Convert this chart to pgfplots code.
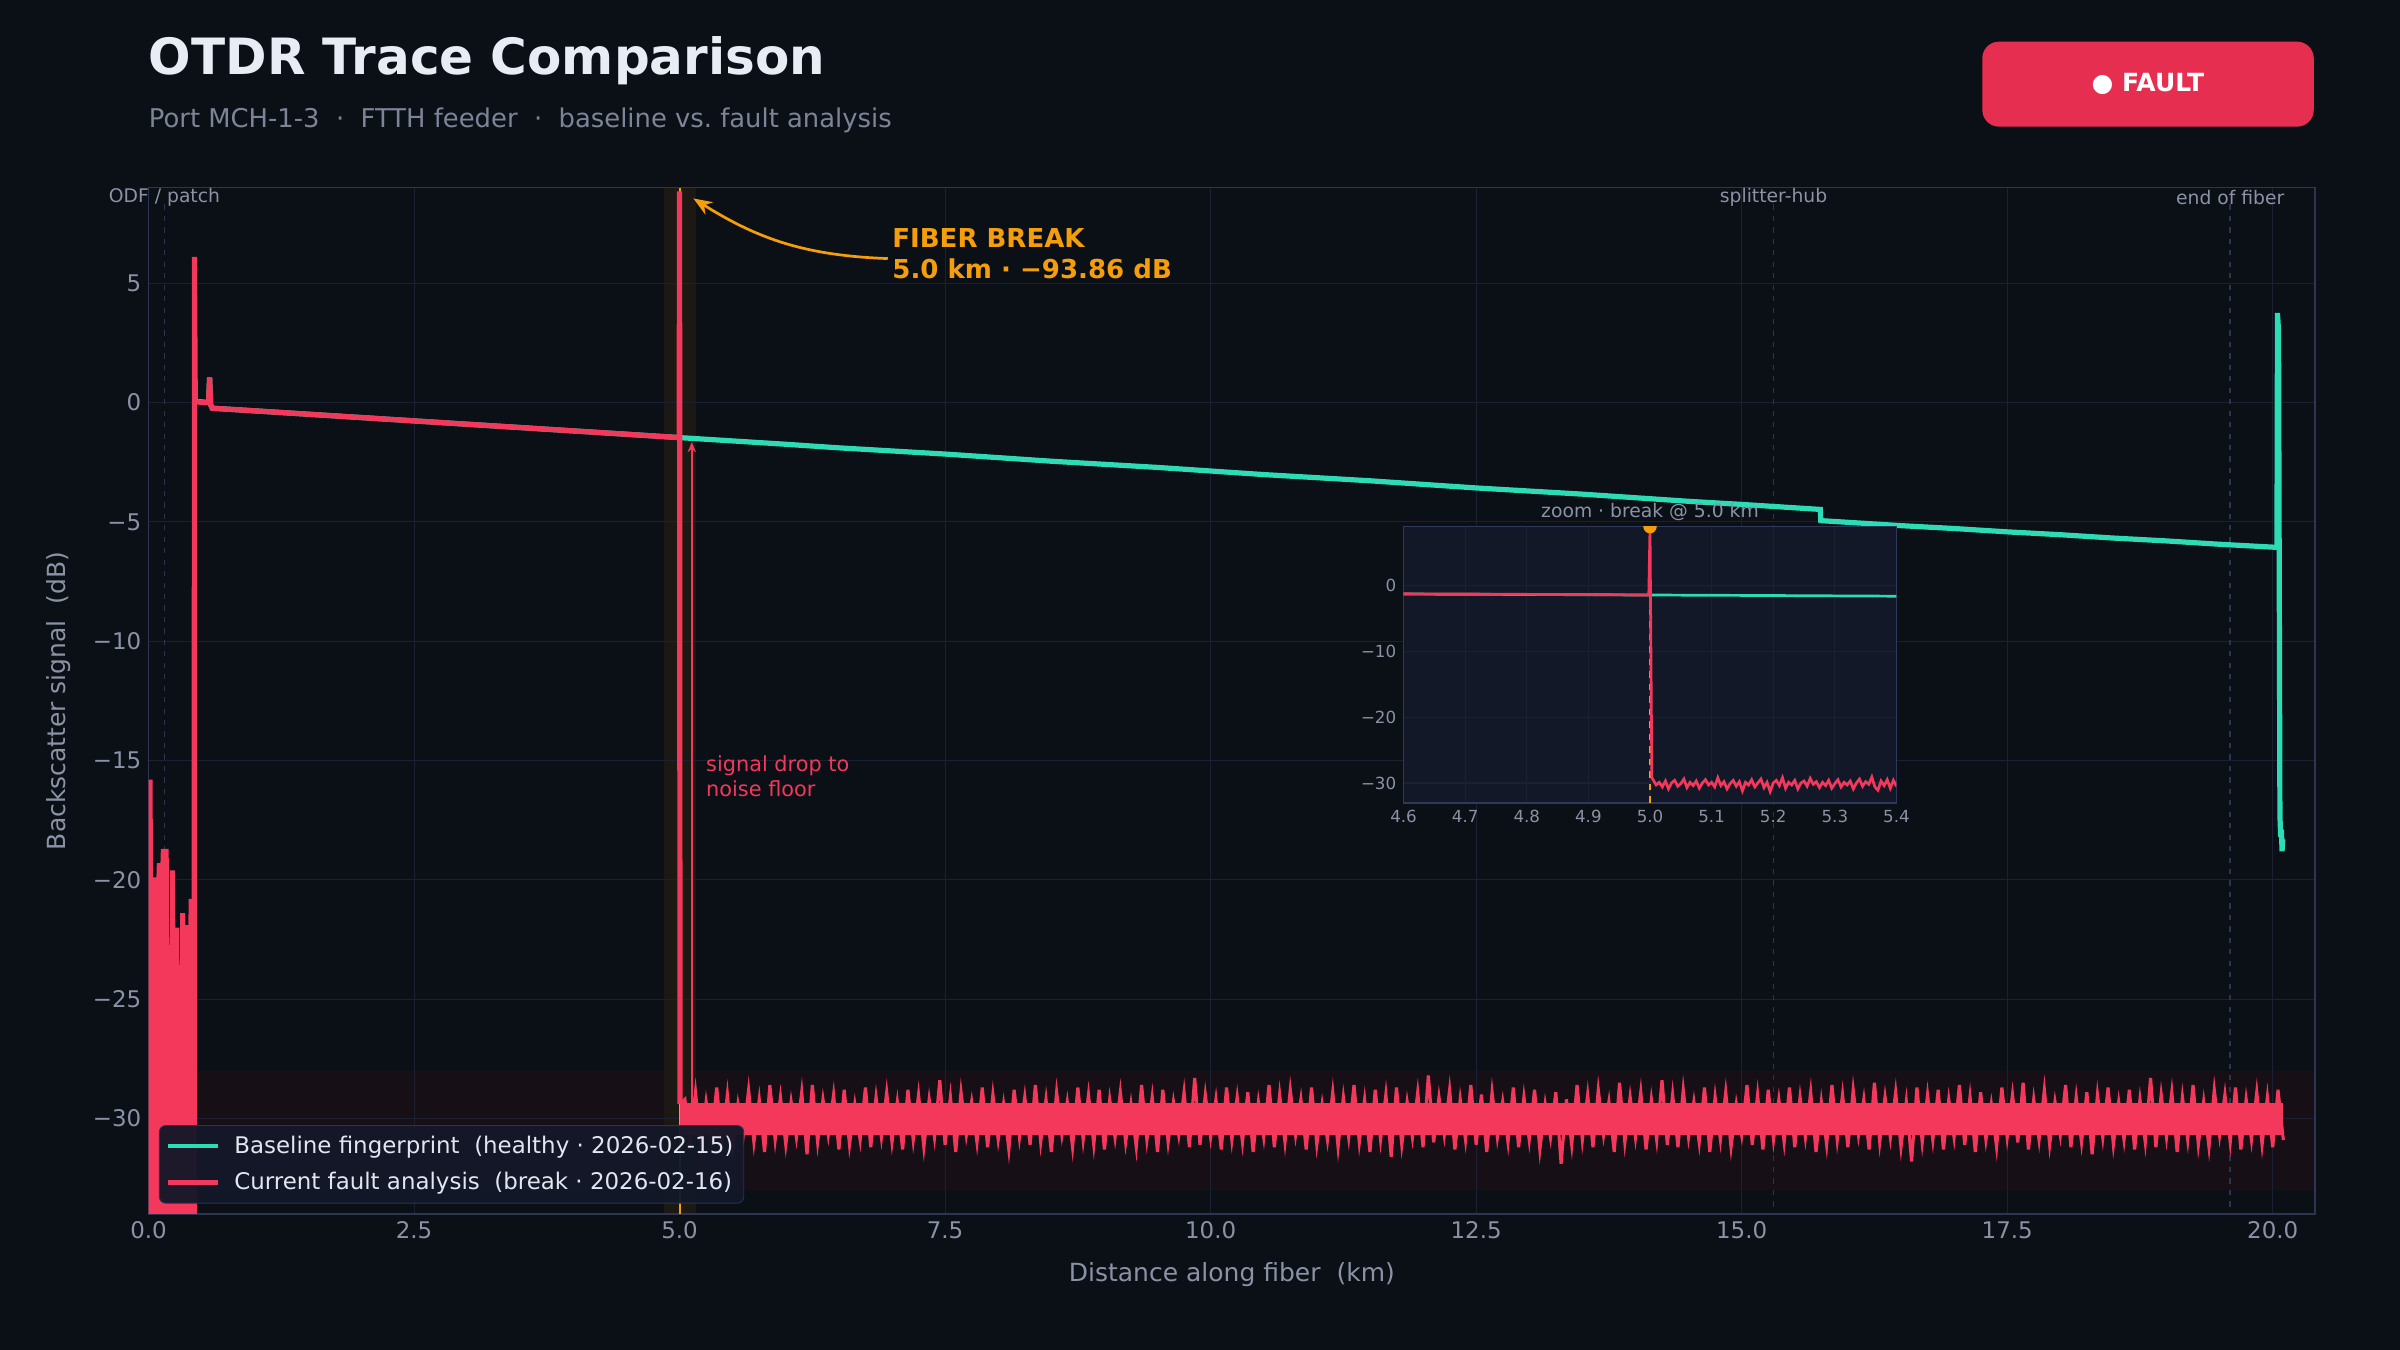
\documentclass[border=0pt]{standalone}
\usepackage{fontspec}
\setmainfont{DejaVu Sans}
\setsansfont{DejaVu Sans}
\usepackage{pgfplots}
\pgfplotsset{compat=1.18}
\usetikzlibrary{arrows.meta}

\definecolor{bg}{RGB}{11,15,22}
\definecolor{gridc}{RGB}{27,32,50}
\definecolor{spine}{RGB}{46,53,82}
\definecolor{tickc}{RGB}{139,146,166}
\definecolor{titlec}{RGB}{232,236,245}
\definecolor{subc}{RGB}{125,132,152}
\definecolor{tealc}{RGB}{45,220,180}
\definecolor{redc}{RGB}{244,56,92}
\definecolor{badgec}{RGB}{230,46,80}
\definecolor{orangec}{RGB}{245,158,11}
\definecolor{insetbg}{RGB}{18,24,40}
\definecolor{insetbd}{RGB}{46,56,90}
\definecolor{legbg}{RGB}{19,24,40}
\definecolor{legbd}{RGB}{42,50,80}
\definecolor{legtext}{RGB}{226,230,240}
\definecolor{bandc}{RGB}{22,15,22}
\definecolor{brkc}{RGB}{28,25,20}
\definecolor{evc}{RGB}{44,52,80}

\begin{document}
\begin{tikzpicture}
\fill[bg] (0pt,0pt) rectangle (1152pt,648pt);
\useasboundingbox (0pt,0pt) rectangle (1152pt,648pt);

% title block
\node[anchor=base west, inner sep=0, text=titlec, font=\fontsize{24}{28}\selectfont\bfseries] at (71.3pt,612pt) {OTDR Trace Comparison};
\node[anchor=base west, inner sep=0, text=subc, font=\fontsize{12.4}{14}\selectfont] at (71.3pt,586.7pt) {Port MCH-1-3\ \ ·\ \ FTTH feeder\ \ ·\ \ baseline vs.\ fault analysis};
\fill[badgec, rounded corners=8pt] (951.5pt,587.2pt) rectangle (1110.6pt,628pt);
\node[text=white, font=\fontsize{12}{14}\selectfont\bfseries] at (1031pt,607.6pt) {● FAULT};

% background bands
\begin{axis}[
  at={(71.3pt,65.3pt)}, anchor=south west,
  scale only axis, width=1040pt, height=492.6pt,
  xmin=0, xmax=20.4, ymin=-34, ymax=9,
  hide axis,
]
\addplot[draw=none, fill=bandc] coordinates {(0,-28) (20.4,-28) (20.4,-33) (0,-33)};
\addplot[draw=none, fill=brkc] coordinates {(4.85,-34) (5.15,-34) (5.15,9) (4.85,9)};
\end{axis}

% main axis
\begin{axis}[
  at={(71.3pt,65.3pt)}, anchor=south west,
  scale only axis, width=1040pt, height=492.6pt,
  xmin=0, xmax=20.4, ymin=-34, ymax=9,
  axis line style={spine, line width=0.7pt},
  xtick={0,2.5,5,7.5,10,12.5,15,17.5,20},
  xticklabels={0.0,2.5,5.0,7.5,10.0,12.5,15.0,17.5,20.0},
  ytick={-30,-25,-20,-15,-10,-5,0,5},
  yticklabels={−30,−25,−20,−15,−10,−5,0,5},
  major tick length=0pt,
  tick label style={text=tickc, font=\fontsize{11}{13}\selectfont},
  grid=major, major grid style={gridc, line width=0.5pt},
  xlabel={Distance along fiber\ \ (km)},
  ylabel={Backscatter signal\ \ (dB)},
  label style={text=tickc, font=\fontsize{12}{14}\selectfont},
  xlabel style={at={(axis description cs:0.5,-0.0595)}, anchor=center},
  ylabel style={at={(axis description cs:-0.0417,0.5)}, anchor=center},
  clip mode=individual,
  legend style={at={(axis description cs:0,0)}, anchor=south west, xshift=5pt, yshift=5pt,
    fill=legbg, fill opacity=0.95, text opacity=1, draw=legbd, rounded corners=3pt,
    text=legtext, font=\fontsize{11}{13}\selectfont, row sep=3.5pt, inner xsep=3pt, inner ysep=3pt,
    /tikz/every odd column/.append style={column sep=5pt}},
  legend cell align=left,
  legend image code/.code={\draw[#1] (0pt,0pt) -- (24pt,0pt);},
]
\addlegendimage{tealc, line width=2pt}
\addlegendentry{Baseline fingerprint\ \ (healthy · 2026-02-15)}
\addlegendimage{redc, line width=2pt}
\addlegendentry{Current fault analysis\ \ (break · 2026-02-16)}

% event markers
\addplot[evc, dash pattern=on 2.5pt off 3pt, line width=0.8pt, forget plot] coordinates {(0.15,8.3) (0.15,-34)};
\addplot[evc, dash pattern=on 2.5pt off 3pt, line width=0.8pt, forget plot] coordinates {(15.3,8.3) (15.3,-34)};
\addplot[evc, dash pattern=on 2.5pt off 3pt, line width=0.8pt, forget plot] coordinates {(19.6,8.3) (19.6,-34)};
\node[text=tickc, font=\fontsize{9}{11}\selectfont, inner sep=0] at (axis cs:0.15,9) [yshift=-4.5pt] {ODF / patch};
\node[text=tickc, font=\fontsize{9}{11}\selectfont, inner sep=0] at (axis cs:15.3,9) [yshift=-4.5pt] {splitter-hub};
\node[text=tickc, font=\fontsize{9}{11}\selectfont, inner sep=0] at (axis cs:19.6,9) [yshift=-4.5pt] {end of fiber};

% orange break line
\addplot[orangec, line width=0.9pt, forget plot] coordinates {(5.0,-34) (5.0,9)};

% baseline trace
\addplot[tealc, line width=2.5pt, forget plot] coordinates {
(0.44,0.05) (0.565,0.0) (0.575,1.05) (0.585,-0.1) (0.6,-0.24)
(1.0,-0.35) (1.5,-0.49) (2.0,-0.63) (2.5,-0.77) (3.0,-0.91) (3.5,-1.05) (4.0,-1.19) (4.5,-1.33) (4.996,-1.47)
(5.5,-1.61) (6,-1.75) (6.5,-1.90) (7,-2.03) (7.5,-2.16) (8,-2.31) (8.5,-2.46) (9,-2.59) (9.5,-2.72) (10,-2.87)
(10.5,-3.02) (11,-3.15) (11.5,-3.28) (12,-3.43) (12.5,-3.58) (13,-3.71) (13.5,-3.84) (14,-3.99) (14.5,-4.14) (15,-4.27)
(15.74,-4.48) (15.745,-4.95) (16,-5.02) (16.5,-5.16) (17,-5.28) (17.5,-5.42) (18,-5.54) (18.5,-5.68) (19,-5.80) (19.5,-5.94) (20,-6.06) (20.04,-6.07)
(20.045,3.75) (20.055,3.0) (20.068,-17.3) (20.075,-18.2) (20.082,-17.9) (20.088,-18.8) (20.095,-18.3)};

% fault trace: dead-zone noise
\addplot[draw=none, fill=redc, forget plot] coordinates {
(0,-40) (0,-15.8) (0.038,-15.8) (0.042,-19.9) (0.074,-19.9) (0.078,-19.3) (0.112,-19.3) (0.116,-18.7)
(0.19,-18.7) (0.192,-21.6) (0.196,-21.6) (0.198,-22.8) (0.202,-22.8) (0.204,-19.6) (0.248,-19.6)
(0.252,-22.0) (0.29,-22.0) (0.292,-23.8) (0.296,-23.8) (0.298,-21.4) (0.345,-21.4) (0.348,-21.9)
(0.375,-21.9) (0.378,-20.8) (0.414,-20.8) (0.418,-20.9) (0.455,-20.9) (0.455,-40)};

% noise floor core
\addplot[draw=none, fill=redc, forget plot] coordinates {(5.0,-29.35) (20.1,-29.35) (20.1,-30.7) (5.0,-30.7)};

% fault trace
\addplot[redc, line width=2.5pt, forget plot] coordinates {
(0.43,-36) (0.432,6.1) (0.44,0.05) (0.5,0.0) (0.565,0.0) (0.575,1.05) (0.585,-0.1) (0.6,-0.24)
(1.0,-0.35) (1.5,-0.49) (2.0,-0.63) (2.5,-0.77) (3.0,-0.91) (3.5,-1.05) (4.0,-1.19) (4.5,-1.33) (4.996,-1.47)
(5.0,8.85) (5.004,-29.4)};
\addplot[redc, line width=1.5pt, forget plot] coordinates {
(5.004,-29.4)
(5.05,-29.2) (5.10,-30.9) (5.15,-28.9) (5.20,-31.2) (5.25,-29.3) (5.30,-30.8) (5.35,-28.7) (5.40,-31.1) (5.45,-29.0) (5.50,-31.3)
(5.55,-29.4) (5.60,-30.7) (5.65,-28.8) (5.70,-31.0) (5.75,-29.2) (5.80,-31.4) (5.85,-28.6) (5.90,-30.9) (5.95,-29.1) (6.00,-31.1)
(6.05,-29.3) (6.10,-30.8) (6.15,-28.9) (6.20,-31.5) (6.25,-28.6) (6.30,-31.0) (6.35,-29.2) (6.40,-30.7) (6.45,-29.0) (6.50,-31.3)
(6.55,-28.8) (6.60,-31.1) (6.65,-29.4) (6.70,-30.9) (6.75,-28.7) (6.80,-31.2) (6.85,-29.1) (6.90,-30.8) (6.95,-28.9) (7.00,-31.0)
(7.05,-29.3) (7.10,-31.3) (7.15,-28.8) (7.20,-30.9) (7.25,-29.0) (7.30,-31.2) (7.35,-29.2) (7.40,-30.8) (7.45,-28.4) (7.50,-31.1)
(7.55,-29.1) (7.60,-31.4) (7.65,-28.9) (7.70,-30.7) (7.75,-29.3) (7.80,-31.0) (7.85,-28.7) (7.90,-31.2) (7.95,-29.0) (8.00,-30.9)
(8.05,-29.4) (8.10,-31.3) (8.15,-28.8) (8.20,-30.8) (8.25,-29.1) (8.30,-31.1) (8.35,-28.6) (8.40,-31.0) (8.45,-29.2) (8.50,-31.4)
(8.55,-28.9) (8.60,-30.7) (8.65,-29.3) (8.70,-31.2) (8.75,-28.7) (8.80,-30.9) (8.85,-29.0) (8.90,-31.1) (8.95,-28.8) (9.00,-31.3)
(9.05,-29.2) (9.10,-30.8) (9.15,-28.9) (9.20,-31.0) (9.25,-29.4) (9.30,-31.2) (9.35,-28.6) (9.40,-30.9) (9.45,-29.1) (9.50,-31.4)
(9.55,-28.8) (9.60,-31.0) (9.65,-29.3) (9.70,-30.7) (9.75,-28.9) (9.80,-31.2) (9.85,-28.3) (9.90,-31.1) (9.95,-29.0) (10.00,-30.8)
(10.05,-29.2) (10.10,-31.3) (10.15,-28.7) (10.20,-30.9) (10.25,-29.1) (10.30,-31.0) (10.35,-28.9) (10.40,-31.4) (10.45,-29.3) (10.50,-30.8)
(10.55,-28.6) (10.60,-31.2) (10.65,-29.0) (10.70,-31.0) (10.75,-28.8) (10.80,-30.7) (10.85,-29.2) (10.90,-31.3) (10.95,-28.7) (11.00,-31.1)
(11.05,-29.4) (11.10,-30.9) (11.15,-28.9) (11.20,-31.2) (11.25,-29.1) (11.30,-30.8) (11.35,-28.6) (11.40,-31.0) (11.45,-29.2) (11.50,-31.4)
(11.55,-28.8) (11.60,-30.9) (11.65,-29.0) (11.70,-31.6) (11.75,-28.7) (11.80,-31.1) (11.85,-29.3) (11.90,-30.8) (11.95,-28.9) (12.00,-31.2)
(12.05,-28.2) (12.10,-31.0) (12.15,-29.1) (12.20,-30.7) (12.25,-28.8) (12.30,-31.3) (12.35,-29.2) (12.40,-30.9) (12.45,-28.6) (12.50,-31.1)
(12.55,-29.0) (12.60,-31.4) (12.65,-28.9) (12.70,-30.8) (12.75,-29.3) (12.80,-31.0) (12.85,-28.7) (12.90,-31.2) (12.95,-29.1) (13.00,-30.9)
(13.05,-28.8) (13.10,-31.3) (13.15,-29.4) (13.20,-30.8) (13.25,-28.9) (13.30,-31.9) (13.35,-29.2) (13.40,-31.1) (13.45,-28.6) (13.50,-30.9)
(13.55,-29.0) (13.60,-31.2) (13.65,-28.8) (13.70,-30.7) (13.75,-29.3) (13.80,-31.4) (13.85,-28.5) (13.90,-31.0) (13.95,-29.1) (14.00,-30.8)
(14.05,-28.9) (14.10,-31.3) (14.15,-29.2) (14.20,-30.9) (14.25,-28.4) (14.30,-31.1) (14.35,-29.0) (14.40,-31.2) (14.45,-28.8) (14.50,-30.8)
(14.55,-29.3) (14.60,-31.0) (14.65,-28.7) (14.70,-31.4) (14.75,-29.1) (14.80,-30.9) (14.85,-28.9) (14.90,-31.2) (14.95,-29.4) (15.00,-30.7)
(15.05,-28.6) (15.10,-31.1) (15.15,-29.0) (15.20,-31.3) (15.25,-28.8) (15.30,-30.9) (15.35,-29.2) (15.40,-31.0) (15.45,-28.7) (15.50,-31.2)
(15.55,-29.1) (15.60,-30.8) (15.65,-28.9) (15.70,-31.4) (15.75,-29.3) (15.80,-31.1) (15.85,-28.6) (15.90,-30.9) (15.95,-29.0) (16.00,-31.2)
(16.05,-28.8) (16.10,-30.7) (16.15,-29.2) (16.20,-31.3) (16.25,-28.5) (16.30,-31.0) (16.35,-29.1) (16.40,-30.8) (16.45,-28.9) (16.50,-31.2)
(16.55,-29.3) (16.60,-31.8) (16.65,-28.7) (16.70,-31.0) (16.75,-29.0) (16.80,-30.9) (16.85,-28.8) (16.90,-31.3) (16.95,-29.2) (17.00,-30.8)
(17.05,-28.6) (17.10,-31.1) (17.15,-29.1) (17.20,-31.4) (17.25,-28.9) (17.30,-30.9) (17.35,-29.4) (17.40,-31.2) (17.45,-28.7) (17.50,-30.8)
(17.55,-29.0) (17.60,-31.0) (17.65,-28.5) (17.70,-31.3) (17.75,-29.2) (17.80,-30.9) (17.85,-28.8) (17.90,-31.1) (17.95,-29.3) (18.00,-30.7)
(18.05,-28.6) (18.10,-31.2) (18.15,-29.1) (18.20,-31.0) (18.25,-28.9) (18.30,-31.5) (18.35,-29.0) (18.40,-30.8) (18.45,-28.7) (18.50,-31.1)
(18.55,-29.3) (18.60,-30.9) (18.65,-28.8) (18.70,-31.3) (18.75,-29.2) (18.80,-31.0) (18.85,-28.3) (18.90,-31.2) (18.95,-29.0) (19.00,-30.8)
(19.05,-28.9) (19.10,-31.4) (19.15,-29.1) (19.20,-30.9) (19.25,-28.6) (19.30,-31.1) (19.35,-29.3) (19.40,-31.2) (19.45,-28.8) (19.50,-30.7)
(19.55,-29.0) (19.60,-31.0) (19.65,-28.7) (19.70,-31.3) (19.75,-29.2) (19.80,-30.9) (19.85,-28.9) (19.90,-31.1) (19.95,-29.1) (20.00,-31.2)
(20.05,-28.8) (20.10,-30.9)};

% annotations
\draw[orangec, line width=1.3pt, -{Stealth[length=9pt,width=7pt]}] (axis cs:6.96,6.03) to[bend left=15] (axis cs:5.13,8.55);
\node[anchor=west, inner sep=0, text=orangec, align=left, font=\fontsize{12.5}{15}\selectfont\bfseries] at (axis cs:7.0,6.22) {FIBER BREAK\\5.0 km · −93.86 dB};
\draw[redc, line width=0.9pt, -{Stealth[length=5pt,width=4pt]}] (axis cs:5.115,-29.6) -- (axis cs:5.115,-1.65);
\node[anchor=west, inner sep=0, text=redc, align=left, font=\fontsize{10}{12}\selectfont] at (axis cs:5.247,-15.67) {signal drop to\\noise floor};
\end{axis}

% inset
\begin{axis}[
  at={(673.7pt,262.7pt)}, anchor=south west,
  scale only axis, width=236.6pt, height=132.5pt,
  xmin=4.6, xmax=5.4, ymin=-33, ymax=9,
  axis background/.style={fill=insetbg},
  axis line style={insetbd, line width=0.8pt},
  xtick={4.6,4.7,4.8,4.9,5.0,5.1,5.2,5.3,5.4},
  xticklabels={4.6,4.7,4.8,4.9,5.0,5.1,5.2,5.3,5.4},
  ytick={-30,-20,-10,0},
  yticklabels={−30,−20,−10,0},
  major tick length=0pt,
  tick label style={text=tickc, font=\fontsize{8}{10}\selectfont},
  grid=major, major grid style={gridc, line width=0.5pt},
  title={zoom · break @ 5.0 km},
  title style={text=tickc, font=\fontsize{9}{11}\selectfont, at={(axis description cs:0.5,1)}, anchor=center, yshift=0.8pt},
  clip marker paths=true,
]
\addplot[orangec, dashed, line width=0.8pt] coordinates {(5.0,-33) (5.0,9)};
\addplot[tealc, line width=1.3pt] coordinates {(4.6,-1.25) (4.8,-1.32) (5.0,-1.4) (5.2,-1.48) (5.4,-1.58)};
\addplot[redc, line width=1.3pt] coordinates {
(4.6,-1.22) (4.7,-1.25) (4.8,-1.3) (4.9,-1.34) (4.998,-1.4) (5.0,8.8) (5.003,-29.2)
(5.005,-29.5) (5.010,-30.3) (5.015,-29.9) (5.020,-30.6) (5.025,-29.7) (5.030,-30.9) (5.035,-30.0) (5.040,-29.6) (5.045,-30.5) (5.050,-30.1)
(5.055,-29.4) (5.060,-30.7) (5.065,-29.9) (5.070,-30.4) (5.075,-29.7) (5.080,-30.8) (5.085,-30.0) (5.090,-29.5) (5.095,-30.3) (5.100,-29.9)
(5.105,-30.6) (5.110,-29.2) (5.115,-30.4) (5.120,-29.8) (5.125,-30.9) (5.130,-30.1) (5.135,-29.6) (5.140,-30.5) (5.145,-29.8) (5.150,-31.2)
(5.155,-29.9) (5.160,-30.3) (5.165,-29.5) (5.170,-30.6) (5.175,-30.0) (5.180,-29.4) (5.185,-30.7) (5.190,-29.9) (5.195,-31.3) (5.200,-30.0)
(5.205,-29.6) (5.210,-30.4) (5.215,-29.2) (5.220,-30.8) (5.225,-29.9) (5.230,-30.3) (5.235,-29.6) (5.240,-30.9) (5.245,-30.0) (5.250,-29.7)
(5.255,-30.5) (5.260,-29.3) (5.265,-30.2) (5.270,-29.8) (5.275,-30.7) (5.280,-29.9) (5.285,-30.4) (5.290,-29.6) (5.295,-30.8) (5.300,-30.1)
(5.305,-29.5) (5.310,-30.6) (5.315,-29.9) (5.320,-30.3) (5.325,-29.7) (5.330,-30.9) (5.335,-30.0) (5.340,-29.4) (5.345,-30.5) (5.350,-29.8)
(5.355,-30.2) (5.360,-29.1) (5.365,-30.6) (5.370,-31.1) (5.375,-29.7) (5.380,-30.4) (5.385,-29.5) (5.390,-30.8) (5.395,-29.6) (5.400,-30.5)};
\addplot[orangec, only marks, mark=*, mark size=3pt] coordinates {(5.0,9)};
\end{axis}
\end{tikzpicture}
\end{document}
